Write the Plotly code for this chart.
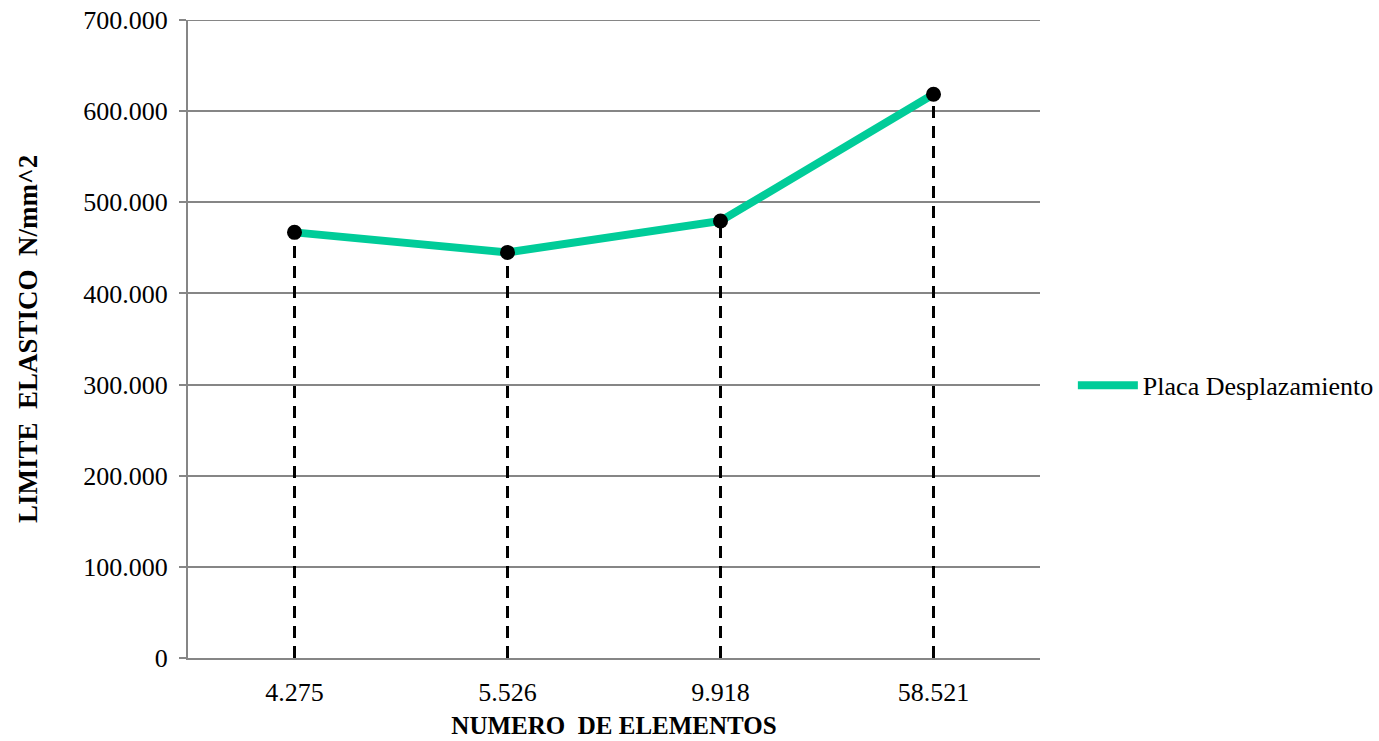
import plotly.graph_objects as go

# Mesh size (number of elements) and resulting yield limit
elementos = ["4.275", "5.526", "9.918", "58.521"]
limite_elastico = [467000, 445000, 479500, 618500]

serie_nombre = "Placa Desplazamiento"
color_linea = "#00CC99"
color_rejilla = "#868686"
fuente = "Liberation Serif"
y_max = 700000

fig = go.Figure()

# Dashed drop lines from each point down to the category axis
for cat, val in zip(elementos, limite_elastico):
    fig.add_trace(go.Scatter(
        x=[cat, cat], y=[0, val], mode="lines",
        line=dict(color="black", width=3, dash="12px,8px"),
        showlegend=False, hoverinfo="skip",
    ))

# Main series line
fig.add_trace(go.Scatter(
    x=elementos, y=limite_elastico, mode="lines",
    name=serie_nombre,
    line=dict(color=color_linea, width=8),
))

# Point markers on top
fig.add_trace(go.Scatter(
    x=elementos, y=limite_elastico, mode="markers",
    marker=dict(color="black", size=15),
    showlegend=False,
))

# Top gridline at the upper end of the value axis
fig.add_shape(
    type="line", xref="paper", yref="y",
    x0=0, x1=1, y0=y_max, y1=y_max,
    line=dict(color=color_rejilla, width=2), layer="below",
)

fig.update_layout(
    width=1379, height=741,
    margin=dict(l=188, r=339, t=20, b=83, autoexpand=False),
    paper_bgcolor="white", plot_bgcolor="white",
    separators=",.",
    font=dict(family=fuente, size=26, color="black"),
    legend=dict(
        xref="container", yref="container",
        x=0.778, y=0.48, xanchor="left", yanchor="middle",
        font=dict(family=fuente, size=26, color="black"),
        itemwidth=60, tracegroupgap=0,
    ),
    xaxis=dict(
        type="category", range=[-0.5, 3.5], automargin=False,
        showgrid=False, zeroline=False,
        showline=True, linecolor=color_rejilla, linewidth=2,
        ticks="outside", ticklen=10, tickcolor="rgba(0,0,0,0)",
        tickfont=dict(family=fuente, size=26),
        title=dict(text="<b>NUMERO  DE ELEMENTOS</b>",
                   font=dict(family=fuente, size=25), standoff=10),
    ),
    yaxis=dict(
        range=[0, y_max], dtick=100000, tickformat=",.0f", automargin=False,
        showgrid=True, gridcolor=color_rejilla, gridwidth=2,
        zeroline=False,
        showline=True, linecolor=color_rejilla, linewidth=2,
        ticks="outside", ticklen=7, tickcolor=color_rejilla, tickwidth=2,
        ticklabelstandoff=6,
        tickfont=dict(family=fuente, size=26),
        title=dict(text="<b>LIMITE  ELASTICO  N/mm^2</b>",
                   font=dict(family=fuente, size=27), standoff=38),
    ),
)

fig.write_html("out.html")
